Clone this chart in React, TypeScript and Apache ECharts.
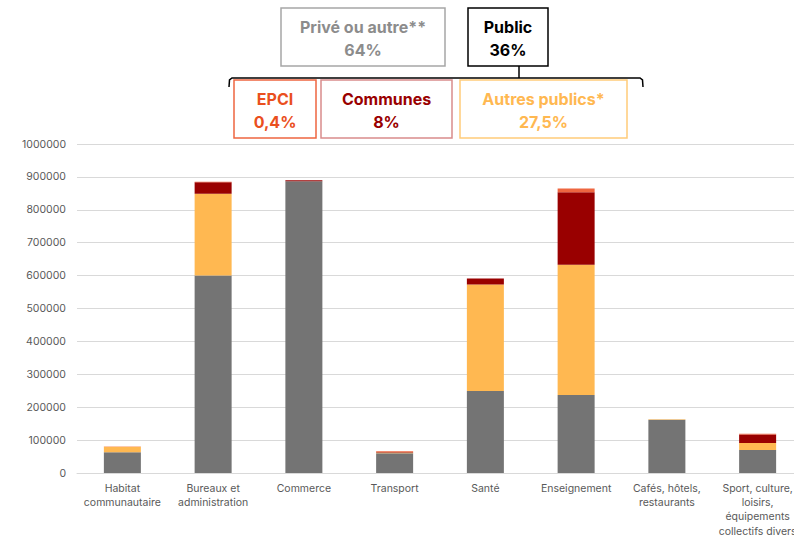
import React, { useEffect, useRef } from "react";
import * as echarts from "echarts";

const categories = [
  "Habitat\ncommunautaire",
  "Bureaux et\nadministration",
  "Commerce",
  "Transport",
  "Santé",
  "Enseignement",
  "Cafés, hôtels,\nrestaurants",
  "Sport, culture,\nloisirs,\néquipements\ncollectifs divers",
];
const prive = [63000, 600000, 887000, 60000, 249000, 237000, 162000, 70000];
const autresPublics = [17000, 249000, 0, 2000, 324000, 396000, 1500, 21000];
const communes = [0, 35000, 3000, 2000, 18000, 220000, 0, 26000];
const epci = [500, 1000, 0, 2000, 0, 12000, 0, 2000];

const GREY = "#747474";
const ORANGE = "#FFB851";
const DARKRED = "#990000";
const EPCI_C = "#EE6640";

const FONT = "Inter, 'Noto Sans', sans-serif";

function box(x: number, y: number, w: number, h: number, stroke: string, text: string, color: string) {
  return [
    {
      type: "rect",
      shape: { x, y, width: w, height: h },
      style: { fill: "#fff", stroke, lineWidth: 1.5 },
    },
    {
      type: "text",
      x: x + w / 2,
      y: y + h / 2 + 1,
      style: {
        text,
        fill: color,
        font: `bold 16px ${FONT}`,
        align: "center",
        verticalAlign: "middle",
        lineHeight: 23,
      },
    },
  ];
}

export default function App() {
  const ref = useRef<HTMLDivElement>(null);
  useEffect(() => {
    if (!ref.current) return;
    const chart = echarts.init(ref.current, null, { renderer: "svg" });
    const barBase = { type: "bar", stack: "total", barWidth: 37 };
    chart.setOption({
      animation: false,
      grid: { left: 77, right: -9, top: 144, bottom: 62, outerBoundsMode: "none", containLabel: false },
      xAxis: {
        type: "category",
        data: categories,
        axisLine: { lineStyle: { color: "#D9D9D9", width: 1 } },
        axisTick: { show: false },
        axisLabel: { color: "#595959", fontSize: 10.5, lineHeight: 14.3, margin: 8, fontFamily: FONT, interval: 0 },
      },
      yAxis: {
        type: "value",
        min: 0,
        max: 1000000,
        interval: 100000,
        axisLine: { show: false },
        axisTick: { show: false },
        splitLine: { lineStyle: { color: "#D9D9D9", width: 1 } },
        axisLabel: {
          color: "#595959",
          fontSize: 10.5,
          margin: 11,
          fontFamily: FONT,
          formatter: (v: number) => String(v),
        },
      },
      series: [
        { ...barBase, name: "Privé ou autre", data: prive, itemStyle: { color: GREY } },
        { ...barBase, name: "Autres publics", data: autresPublics, itemStyle: { color: ORANGE } },
        { ...barBase, name: "Communes", data: communes, itemStyle: { color: DARKRED } },
        { ...barBase, name: "EPCI", data: epci, itemStyle: { color: EPCI_C } },
      ],
      graphic: [
        ...box(281, 8, 164, 58, "#A6A6A6", "Privé ou autre**\n64%", "#8C8C8C"),
        ...box(468, 8, 80, 58, "#000000", "Public\n36%", "#000000"),
        {
          type: "polyline",
          shape: { points: [[229, 87], [229.5, 80], [232, 78], [640, 78], [642.5, 80], [643, 87]] },
          style: { stroke: "#000", lineWidth: 1.5, fill: null },
        },
        {
          type: "line",
          shape: { x1: 519, y1: 66, x2: 519, y2: 78 },
          style: { stroke: "#000", lineWidth: 1.5 },
        },
        ...box(234, 80, 82, 58, "#EE6640", "EPCI\n0,4%", "#EA4F1E"),
        ...box(321, 80, 131, 58, "#D98C8C", "Communes\n8%", "#990000"),
        ...box(460, 80, 167, 58, "#FFCB7A", "Autres publics*\n27,5%", "#FFB851"),
      ],
    });
    return () => chart.dispose();
  }, []);
  return (
    <div
      ref={ref}
      style={{ position: "absolute", left: 0, top: 0, width: 794, height: 535, background: "#fff" }}
    />
  );
}
